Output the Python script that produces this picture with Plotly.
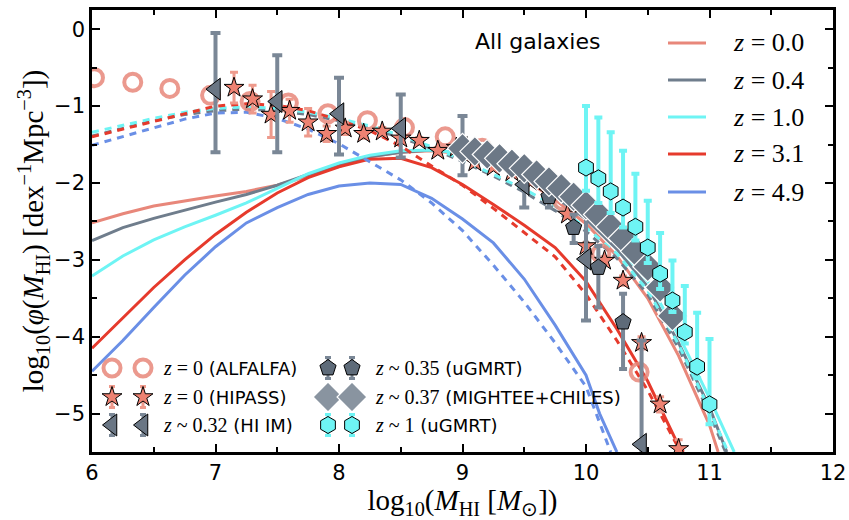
import plotly.graph_objects as go

# ---------------- data ----------------
# ALFALFA z=0
alf_x = [6.02, 6.33, 6.63, 6.96, 7.28, 7.59, 7.91, 8.23, 8.53, 8.86, 9.16, 9.48, 9.81, 10.12, 10.43]
alf_y = [-0.63, -0.69, -0.77, -0.86, -0.94, -0.96, -1.10, -1.19, -1.28, -1.40, -1.55, -1.79, -2.23, -2.92, -4.46]

# HIPASS z=0
hip_x = [7.15, 7.30, 7.45, 7.60, 7.75, 7.90, 8.05, 8.20, 8.35, 8.50, 8.65, 8.80, 8.95, 9.10, 9.25,
         9.40, 9.55, 9.70, 9.85, 10.00, 10.15, 10.30, 10.45, 10.60, 10.75]
hip_y = [-0.76, -0.91, -1.11, -1.06, -1.21, -1.36, -1.29, -1.36, -1.33, -1.42, -1.45, -1.58, -1.54, -1.73, -1.79,
         -1.86, -1.98, -2.12, -2.41, -2.82, -3.01, -3.27, -4.08, -4.88, -5.46]
hip_e = [0.20, 0.18, 0.30, 0.15, 0.18, 0.10, 0.08, 0.06, 0.05, 0.05, 0.04, 0.04, 0.03, 0.03, 0.03,
         0.03, 0.03, 0.03, 0.03, 0.04, 0.05, 0.06, 0.08, 0.10, 0.12]

# HI intensity mapping z~0.32
him_x = [7.0, 7.5, 8.0, 8.5, 9.0, 9.5, 10.0, 10.45]
him_y = [-0.78, -0.94, -1.10, -1.29, -1.54, -2.02, -2.99, -5.40]
him_up = [0.73, 0.60, 0.47, 0.44, 0.41, 0.30, 0.76, 1.35]
him_dn = [0.82, 0.66, 0.53, 0.38, 0.36, 0.30, 0.80, 2.00]

# uGMRT z~0.35
ug35_x = [9.7, 9.9, 10.1, 10.3]
ug35_y = [-2.18, -2.58, -3.10, -3.81]
ug35_up = [0.13, 0.17, 0.28, 0.37]
ug35_dn = [0.14, 0.20, 0.52, 0.61]

# MIGHTEE+CHILES z~0.37
mig_x = [9.0, 9.1, 9.2, 9.3, 9.4, 9.5, 9.6, 9.7, 9.8, 9.9, 10.0, 10.1, 10.2, 10.3, 10.4, 10.5, 10.6, 10.7]
mig_y = [-1.55, -1.59, -1.63, -1.68, -1.75, -1.81, -1.89, -1.98, -2.07, -2.18, -2.29, -2.41, -2.57, -2.72,
         -2.89, -3.09, -3.36, -3.73]
mig_e = [0.08] * 18

# uGMRT z~1
ug1_x = [10.0, 10.1, 10.2, 10.3, 10.4, 10.5, 10.6, 10.7, 10.8, 10.9, 11.0]
ug1_y = [-1.80, -1.94, -2.11, -2.32, -2.57, -2.84, -3.18, -3.53, -3.94, -4.39, -4.88]
ug1_up = [0.80, 0.79, 0.77, 0.74, 0.69, 0.61, 0.53, 0.52, 0.60, 0.70, 0.85]
ug1_dn = [0.30, 0.32, 0.28, 0.26, 0.18, 0.20, 0.20, 0.15, 0.15, 0.15, 0.26]

# model curves (solid)
m_x = [6.0, 6.25, 6.5, 6.75, 7.0, 7.25, 7.5, 7.75, 8.0, 8.25, 8.5, 8.75, 9.0, 9.25, 9.5, 9.75,
       10.0, 10.25, 10.5, 10.75, 11.0]
z00_x = m_x + [11.07]
z00_y = [-2.52, -2.40, -2.30, -2.23, -2.17, -2.11, -2.03, -1.91, -1.78, -1.66, -1.60, -1.58, -1.62, -1.75,
         -1.95, -2.22, -2.53, -2.95, -3.50, -4.25, -5.15, -5.5]
z04_x = m_x + [11.14]
z04_y = [-2.75, -2.58, -2.46, -2.35, -2.25, -2.15, -2.03, -1.89, -1.77, -1.66, -1.60, -1.57, -1.61, -1.73,
         -1.92, -2.18, -2.47, -2.86, -3.35, -4.08, -4.92, -5.5]
z10_x = m_x + [11.2]
z10_y = [-3.21, -2.95, -2.74, -2.57, -2.42, -2.26, -2.07, -1.88, -1.74, -1.64, -1.58, -1.57, -1.61, -1.70,
         -1.88, -2.14, -2.42, -2.80, -3.28, -3.98, -4.80, -5.5]
z31_x = m_x[:20] + [10.79]
z31_y = [-4.15, -3.75, -3.36, -3.00, -2.67, -2.38, -2.13, -1.93, -1.79, -1.69, -1.68, -1.80, -2.02, -2.28,
         -2.55, -2.84, -3.28, -3.90, -4.58, -5.42, -5.5]
z49_x = m_x[:17] + [10.11, 10.25]
z49_y = [-4.45, -4.05, -3.62, -3.20, -2.83, -2.52, -2.32, -2.15, -2.04, -2.00, -2.02, -2.20, -2.47, -2.78,
         -3.25, -3.85, -4.50, -5.00, -5.5]

# model curves (dashed)
z04d_x = m_x + [11.13]
z04d_y = [-1.39, -1.29, -1.19, -1.11, -1.06, -1.04, -1.06, -1.11, -1.19, -1.29, -1.41, -1.55, -1.72, -1.91,
          -2.12, -2.36, -2.63, -2.98, -3.45, -4.15, -5.00, -5.5]
z10d_x = m_x + [11.15]
z10d_y = [-1.34, -1.25, -1.16, -1.08, -1.03, -1.01, -1.03, -1.08, -1.16, -1.26, -1.38, -1.53, -1.70, -1.89,
          -2.08, -2.30, -2.58, -2.92, -3.40, -4.10, -4.95, -5.5]
z31d_x = m_x[:20]
z31d_y = [-1.40, -1.30, -1.20, -1.10, -1.00, -0.97, -0.99, -1.06, -1.18, -1.32, -1.52, -1.78, -2.03, -2.33,
          -2.64, -2.96, -3.45, -4.05, -4.70, -5.45]
z49d_x = m_x[:17] + [10.2]
z49d_y = [-1.51, -1.40, -1.28, -1.17, -1.09, -1.08, -1.16, -1.30, -1.49, -1.72, -1.96, -2.26, -2.62, -3.07,
          -3.55, -4.08, -4.65, -5.5]

line_labels = ["z = 0.0", "z = 0.4", "z = 1.0", "z = 3.1", "z = 4.9"]
x_ticks = [6, 7, 8, 9, 10, 11, 12]
y_ticks = [0, -1, -2, -3, -4, -5]

# ---------------- style ----------------
C_SAL = "#E8877A"
C_GRY = "#6F7D8C"
C_CYN = "#6EF4F4"
C_RED = "#E63A2C"
C_BLU = "#6A8FE6"
SERIF = "Liberation Serif"
SANS = "DejaVu Sans"
DASH = "7px,6px"

L, R, T, B = 92, 16, 10, 68
W, H = 849, 520
PW, PH = W - L - R, H - T - B

def fx(px):
    return (px - L) / PW

def fy(py):
    return (H - B - py) / PH

fig = go.Figure()

def model(x, y, c, dash=None):
    fig.add_trace(go.Scatter(x=x, y=y, mode="lines", showlegend=False, hoverinfo="skip",
                             line=dict(color=c, width=3, dash=dash or "solid")))

model(z00_x, z00_y, C_SAL)
model(z04_x, z04_y, C_GRY)
model(z10_x, z10_y, C_CYN)
model(z31_x, z31_y, C_RED)
model(z49_x, z49_y, C_BLU)
model(z04d_x, z04d_y, C_GRY, DASH)
model(z10d_x, z10d_y, C_CYN, DASH)
model(z31d_x, z31d_y, C_RED, DASH)
model(z49d_x, z49d_y, C_BLU, DASH)

# observations
fig.add_trace(go.Scatter(x=alf_x, y=alf_y, mode="markers", showlegend=False,
                         marker=dict(symbol="circle-open", size=17, color=C_SAL, opacity=0.85,
                                     line=dict(width=4, color=C_SAL))))
fig.add_trace(go.Scatter(x=hip_x, y=hip_y, mode="markers", showlegend=False,
                         error_y=dict(type="data", array=hip_e, color="#EE9A8C", thickness=3, width=4),
                         marker=dict(symbol="star", size=15, color="#EE8272", line=dict(width=1, color="black"))))
fig.add_trace(go.Scatter(x=him_x, y=him_y, mode="markers", showlegend=False,
                         error_y=dict(type="data", array=him_up, arrayminus=him_dn, color="#7A8796",
                                      thickness=4, width=5),
                         marker=dict(symbol="triangle-left", size=19, color="#6A7684",
                                     line=dict(width=1, color="black"))))
fig.add_trace(go.Scatter(x=ug35_x, y=ug35_y, mode="markers", showlegend=False,
                         error_y=dict(type="data", array=ug35_up, arrayminus=ug35_dn, color="#7A8796",
                                      thickness=4, width=4),
                         marker=dict(symbol="pentagon", size=17, color="#5E6B79",
                                     line=dict(width=1, color="black"))))
fig.add_trace(go.Scatter(x=mig_x, y=mig_y, mode="markers", showlegend=False,
                         error_y=dict(type="data", array=mig_e, color="#8994A0", thickness=3, width=0),
                         marker=dict(symbol="diamond", size=23, color="#6C7886",
                                     line=dict(width=1.2, color="white"))))
fig.add_trace(go.Scatter(x=ug1_x, y=ug1_y, mode="markers", showlegend=False,
                         error_y=dict(type="data", array=ug1_up, arrayminus=ug1_dn, color=C_CYN,
                                      thickness=4, width=4),
                         marker=dict(symbol="hexagon", size=17, color=C_CYN,
                                     line=dict(width=1, color="black"))))

# ---------------- legend (markers on an overlay 0..1 axis) ----------------
leg_rows = [fy(368), fy(397), fy(425)]
c1 = [fx(112), fx(143)]
c2 = [fx(328), fx(352)]

def leg(xs, yv, sym, size, col, lcol, lw, ecol=None, opacity=1.0):
    kw = {}
    if ecol:
        kw["error_y"] = dict(type="constant", value=0.024, color=ecol, thickness=3, width=3)
    fig.add_trace(go.Scatter(x=xs, y=[yv, yv], mode="markers", xaxis="x2", yaxis="y2",
                             showlegend=False, hoverinfo="skip",
                             marker=dict(symbol=sym, size=size, color=col, opacity=opacity,
                                         line=dict(width=lw, color=lcol)), **kw))

leg(c1, leg_rows[0], "circle-open", 17, C_SAL, C_SAL, 4, opacity=0.85)
leg(c1, leg_rows[1], "star", 15, "#EE8272", "black", 1, "#EE9A8C")
leg(c1, leg_rows[2], "triangle-left", 19, "#6A7684", "black", 1, "#7A8796")
leg(c2, leg_rows[0], "pentagon", 17, "#5E6B79", "black", 1, "#7A8796")
leg(c2, leg_rows[1], "diamond", 23, "#8994A0", "white", 1.2, "#9AA4AE")
leg(c2, leg_rows[2], "hexagon", 17, C_CYN, "black", 1, C_CYN)

def ztxt(rel, val):
    return '<span style="font-family:%s;font-size:20px"><i>z</i>%s%s</span>' % (SERIF, rel, val)

leg_text = [
    (fx(161), leg_rows[0], ztxt(" = ", "0") + " (ALFALFA)"),
    (fx(161), leg_rows[1], ztxt(" = ", "0") + " (HIPASS)"),
    (fx(161), leg_rows[2], ztxt(" ~ ", "0.32") + " (HI IM)"),
    (fx(373), leg_rows[0], ztxt(" ~ ", "0.35") + " (uGMRT)"),
    (fx(373), leg_rows[1], ztxt(" ~ ", "0.37") + " (MIGHTEE+CHILES)"),
    (fx(373), leg_rows[2], ztxt(" ~ ", "1") + " (uGMRT)"),
]
annotations = []
for xx, yy, tx in leg_text:
    annotations.append(dict(x=xx, y=yy, xref="paper", yref="paper", text=tx, showarrow=False,
                            xanchor="left", yanchor="middle", font=dict(family=SANS, size=18, color="black")))

# top-right line legend
shapes = []
row_px = [43, 80, 117, 154, 192]
for lab, c, py in zip(line_labels, [C_SAL, C_GRY, C_CYN, C_RED, C_BLU], row_px):
    shapes.append(dict(type="line", xref="paper", yref="paper", x0=fx(668), x1=fx(706),
                       y0=fy(py), y1=fy(py), line=dict(color=c, width=3)))
    z, rest = lab.split(" = ")
    annotations.append(dict(x=fx(731), y=fy(py), xref="paper", yref="paper",
                            text="<i>%s</i> = %s" % (z, rest), showarrow=False,
                            xanchor="left", yanchor="middle",
                            font=dict(family=SERIF, size=26, color="black")))

annotations.append(dict(x=fx(537), y=fy(42), xref="paper", yref="paper", text="All galaxies",
                        showarrow=False, xanchor="center", yanchor="middle",
                        font=dict(family=SANS, size=22, color="black")))

axis_common = dict(showline=True, linewidth=2.5, linecolor="black", mirror="ticks",
                   ticks="inside", ticklen=8, tickwidth=2, tickcolor="black",
                   showgrid=False, zeroline=False, automargin=False,
                   tickfont=dict(family=SANS, size=21, color="black"))

fig.update_layout(
    width=W, height=H,
    margin=dict(l=L, r=R, t=T, b=B),
    paper_bgcolor="white", plot_bgcolor="white",
    xaxis=dict(range=[6, 12], tickvals=x_ticks, ticktext=[str(v) for v in x_ticks],
               minor=dict(ticks="inside", dtick=0.5, ticklen=5, tickwidth=2, tickcolor="black"),
               title=dict(text="log<sub>10</sub>(<i>M</i><sub>HI</sub> [<i>M</i><sub>⊙</sub>])",
                          font=dict(family=SERIF, size=29, color="black"), standoff=2),
               **axis_common),
    yaxis=dict(range=[-5.5, 0.25], tickvals=y_ticks, ticktext=["0", "−1", "−2", "−3", "−4", "−5"],
               minor=dict(ticks="inside", dtick=0.5, ticklen=5, tickwidth=2, tickcolor="black"),
               title=dict(text="log<sub>10</sub>(<i>φ</i>(<i>M</i><sub>HI</sub>) [dex<sup>−1</sup>Mpc<sup>−3</sup>])",
                          font=dict(family=SERIF, size=29, color="black"), standoff=2),
               **axis_common),
    xaxis2=dict(range=[0, 1], overlaying="x", visible=False),
    yaxis2=dict(range=[0, 1], overlaying="y", visible=False),
    shapes=shapes,
    annotations=annotations,
    showlegend=False,
)

fig.write_html("out.html")
